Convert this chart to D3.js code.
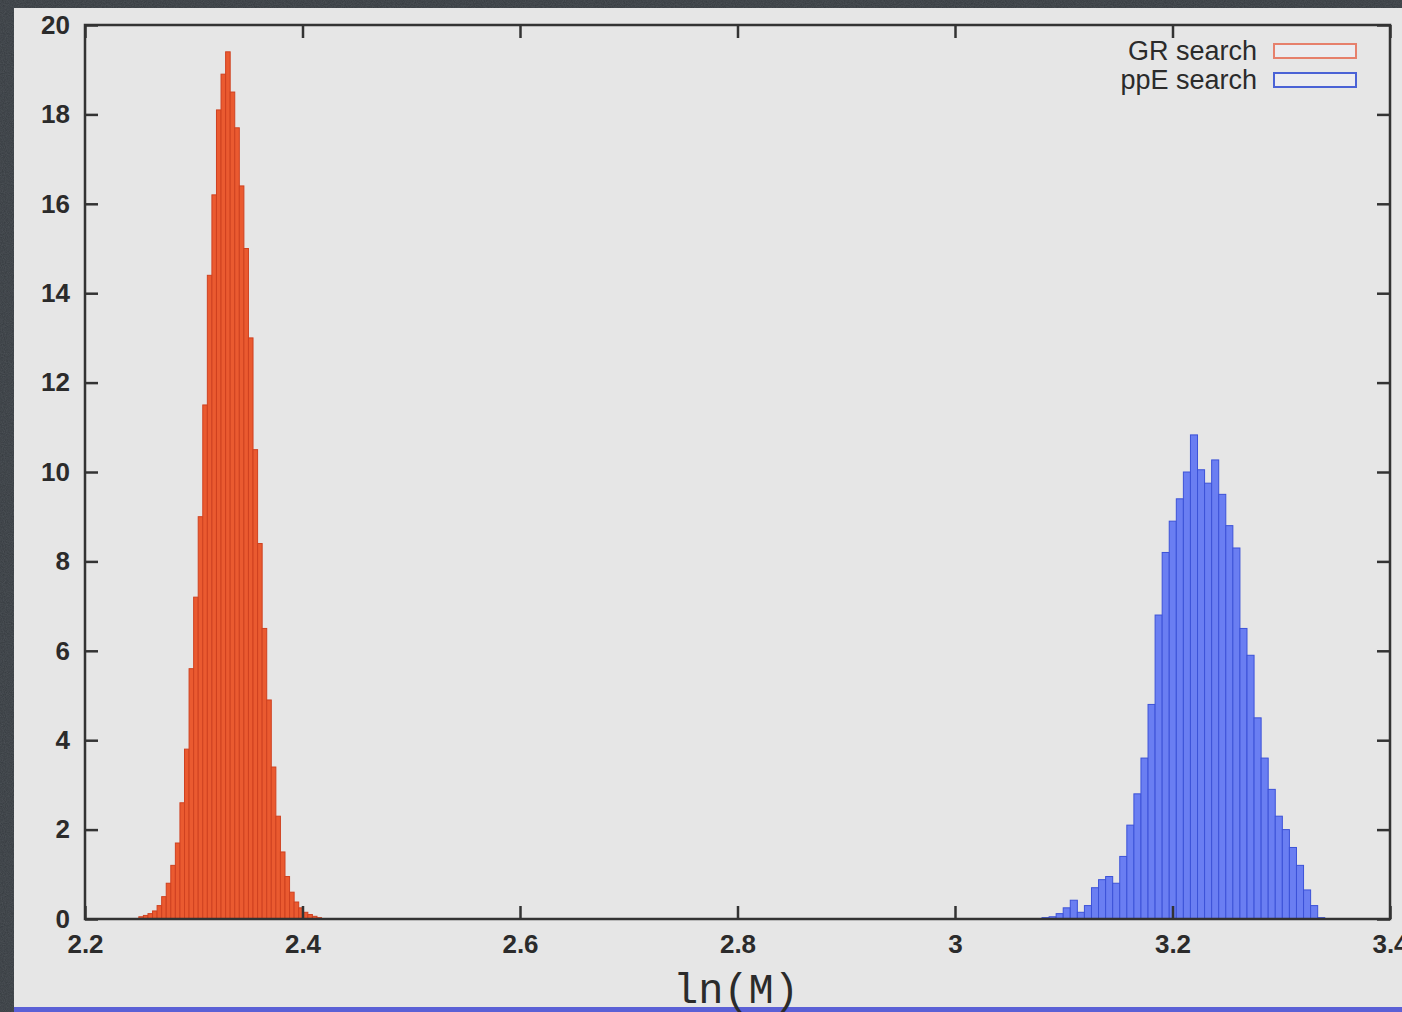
<!DOCTYPE html>
<html>
<head>
<meta charset="utf-8">
<script src="https://cdn.jsdelivr.net/npm/d3@7/dist/d3.min.js"></script>
<style>
  html, body { margin: 0; padding: 0; background: #353a3f; }
  svg { display: block; }
</style>
</head>
<body>
<svg id="chart" width="1402" height="1012"></svg>
<script>
// Posterior of ln(M): GR search vs ppE search (normalised histograms)
const xTicks = [2.2, 2.4, 2.6, 2.8, 3, 3.2, 3.4];
const yTicks = [0, 2, 4, 6, 8, 10, 12, 14, 16, 18, 20];
const seriesNames = ["GR search", "ppE search"];

// GR search histogram: first bin edge, bin width, bin densities
const grStart = 2.2495;
const grBinWidth = 0.0042;
const grDensity = [
  0.05, 0.08, 0.12, 0.18, 0.3, 0.5, 0.8, 1.2, 1.7, 2.6,
  3.8, 5.6, 7.2, 9.0, 11.5, 14.4, 16.2, 18.1, 18.9, 19.4,
  18.5, 17.7, 16.4, 15.0, 13.0, 10.5, 8.4, 6.5, 4.9, 3.4,
  2.3, 1.5, 0.95, 0.6, 0.38, 0.25, 0.15, 0.1, 0.06, 0.03
];

// ppE search histogram
const ppeStart = 3.080;
const ppeBinWidth = 0.0065;
const ppeDensity = [
  0.03, 0.05, 0.12, 0.25, 0.42, 0.15, 0.3, 0.7, 0.88, 0.95,
  0.8, 1.4, 2.1, 2.8, 3.6, 4.8, 6.8, 8.2, 8.9, 9.4,
  10.0, 10.83, 10.05, 9.75, 10.27, 9.5, 8.8, 8.3, 6.5, 5.9,
  4.5, 3.6, 2.9, 2.3, 2.0, 1.6, 1.2, 0.65, 0.3, 0.03
];

const svg = d3.select("#chart");
const W = 1402, H = 1012;

// slate backdrop with a faint grain
const defs = svg.append("defs");
const grain = defs.append("filter").attr("id", "grain")
  .attr("x", 0).attr("y", 0).attr("width", "100%").attr("height", "100%");
grain.append("feTurbulence").attr("type", "fractalNoise")
  .attr("baseFrequency", 0.9).attr("numOctaves", 2).attr("seed", 3).attr("result", "n");
grain.append("feColorMatrix").attr("in", "n").attr("type", "matrix")
  .attr("values", "0 0 0 0 0.22  0 0 0 0 0.24  0 0 0 0 0.26  0 0 0 0.55 0");
svg.append("rect").attr("width", W).attr("height", H).attr("fill", "#353a3f");
svg.append("rect").attr("width", W).attr("height", H).attr("filter", "url(#grain)").attr("opacity", 0.6);

// light page panel
svg.append("rect").attr("x", 14).attr("y", 8).attr("width", W - 14).attr("height", 1000)
  .attr("fill", "#e6e6e6");
svg.append("rect").attr("x", 14).attr("y", 1007).attr("width", W - 14).attr("height", 5)
  .attr("fill", "#5b60d6");

const x = d3.scaleLinear().domain([2.2, 3.4]).range([85, 1390]);
const y = d3.scaleLinear().domain([0, 20]).range([919, 25]);

function bins(start, width, dens) {
  return dens.map((v, i) => ({ x0: start + i * width, x1: start + (i + 1) * width, v }));
}

const plot = svg.append("g");

function drawHist(data, fill, stroke) {
  plot.append("g").selectAll("rect").data(data).join("rect")
    .attr("x", d => x(d.x0))
    .attr("width", d => x(d.x1) - x(d.x0))
    .attr("y", d => y(d.v))
    .attr("height", d => y(0) - y(d.v))
    .attr("fill", fill)
    .attr("stroke", stroke)
    .attr("stroke-width", 1);
}

drawHist(bins(grStart, grBinWidth, grDensity), "#ea5a30", "#cf4120");
drawHist(bins(ppeStart, ppeBinWidth, ppeDensity), "#6a7ef2", "#3c52d8");

// frame
const frameColor = "#333";
svg.append("rect")
  .attr("x", x(2.2)).attr("y", y(20))
  .attr("width", x(3.4) - x(2.2)).attr("height", y(0) - y(20))
  .attr("fill", "none").attr("stroke", frameColor).attr("stroke-width", 2.5);

// inward ticks on all four sides
const tickLen = 13;
const axisFont = "'Liberation Sans', Arial, sans-serif";

const xAxisB = d3.axisBottom(x).tickValues(xTicks).tickSize(-tickLen).tickFormat(d3.format("~g")).tickPadding(18);
const gxb = svg.append("g").attr("transform", `translate(0,${y(0)})`).call(xAxisB);
const xAxisT = d3.axisTop(x).tickValues(xTicks).tickSize(-tickLen).tickFormat("");
const gxt = svg.append("g").attr("transform", `translate(0,${y(20)})`).call(xAxisT);
const yAxisL = d3.axisLeft(y).tickValues(yTicks).tickSize(-tickLen).tickPadding(15);
const gyl = svg.append("g").attr("transform", `translate(${x(2.2)},0)`).call(yAxisL);
const yAxisR = d3.axisRight(y).tickValues(yTicks).tickSize(-tickLen).tickFormat("");
const gyr = svg.append("g").attr("transform", `translate(${x(3.4)},0)`).call(yAxisR);

[gxb, gxt, gyl, gyr].forEach(g => {
  g.select(".domain").remove();
  g.selectAll(".tick line").attr("stroke", frameColor).attr("stroke-width", 2.5);
  g.selectAll(".tick text")
    .attr("fill", "#2b2b2b")
    .style("font-family", axisFont)
    .style("font-size", "26px")
    .style("font-weight", "600");
});
gxb.selectAll(".tick text").attr("dy", "0.62em");

// x-axis title
svg.append("text")
  .attr("x", 736).attr("y", 1003)
  .attr("text-anchor", "middle")
  .style("font-family", "'Liberation Mono', 'DejaVu Sans Mono', monospace")
  .style("font-size", "42px")
  .attr("fill", "#2b2b2b")
  .text("ln(M)");

// legend
const legend = svg.append("g");
const legendItems = [
  { name: seriesNames[0], stroke: "#e6806c" },
  { name: seriesNames[1], stroke: "#4a62d6" }
];
legendItems.forEach((d, i) => {
  const cy = 51 + i * 29;
  legend.append("text")
    .attr("x", 1257).attr("y", cy).attr("dy", "0.35em")
    .attr("text-anchor", "end")
    .style("font-family", axisFont)
    .style("font-size", "27px")
    .attr("fill", "#2b2b2b")
    .text(d.name);
  legend.append("rect")
    .attr("x", 1274).attr("y", cy - 7).attr("width", 82).attr("height", 14)
    .attr("fill", "#ececf0").attr("stroke", d.stroke).attr("stroke-width", 2);
});
</script>
</body>
</html>
